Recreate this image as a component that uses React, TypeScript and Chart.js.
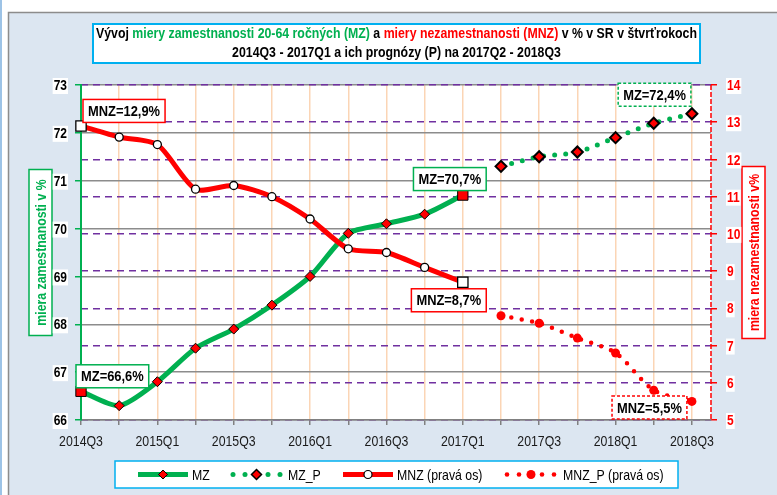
import React, { useEffect, useRef } from "react";
import { Chart, registerables } from "chart.js";

Chart.register(...registerables);

// ---------- DATA ----------
const categories = [
  "2014Q3", "2014Q4", "2015Q1", "2015Q2", "2015Q3", "2015Q4",
  "2016Q1", "2016Q2", "2016Q3", "2016Q4", "2017Q1", "2017Q2",
  "2017Q3", "2017Q4", "2018Q1", "2018Q2", "2018Q3",
];
const mzActual = [66.6, 66.3, 66.8, 67.5, 67.9, 68.4, 69.0, 69.9, 70.1, 70.3, 70.7];
const mzForecast = [71.3, 71.5, 71.6, 71.9, 72.2, 72.4];
const mnzActual = [12.9, 12.6, 12.4, 11.2, 11.3, 11.0, 10.4, 9.6, 9.5, 9.1, 8.7];
const mnzForecast = [7.8, 7.6, 7.2, 6.8, 5.8, 5.5];
const forecastStart = 11; // index of 2017Q2
const leftTicks = [66, 67, 68, 69, 70, 71, 72, 73];
const rightTicks = [5, 6, 7, 8, 9, 10, 11, 12, 13, 14];
const legendLabels = ["MZ", "MZ_P", "MNZ (pravá os)", "MNZ_P (pravá os)"];
const leftAxisTitle = "miera zamestnanosti v %";
const rightAxisTitle = "miera nezamestnanosti v%";
const titleLine1 = [
  { text: "Vývoj ", color: "#000000" },
  { text: "miery zamestnanosti 20-64 ročných (MZ)", color: "#00B050" },
  { text: " a ", color: "#000000" },
  { text: "miery nezamestnanosti (MNZ)", color: "#FF0000" },
  { text: " v % v SR v štvrťrokoch", color: "#000000" },
];
const titleLine2 = "2014Q3 - 2017Q1 a ich prognózy (P) na 2017Q2 - 2018Q3";

// ---------- STYLE ----------
const FONT = '"Liberation Sans", Arial, sans-serif';
const NARROW = 0.82;
const GREEN = "#00B050";
const RED = "#FF0000";
const PURPLE = "#7030A0";
const PEACH = "#FBD5B5";
const PANEL = "#DCE6F1";
const TITLE_BLUE = "#00B0F0";

const fmt = (v: number) => v.toFixed(1).replace(".", ",");
const toPts = (arr: number[], start: number) => arr.map((v, i) => ({ x: start + i, y: v }));

// draw horizontally condensed text (Arial Narrow look-alike)
const drawText = (
  ctx: CanvasRenderingContext2D,
  text: string,
  x: number,
  y: number,
  font: string,
  color: string,
  align: "left" | "center" | "right",
  sx = NARROW,
  backdrop?: string
) => {
  ctx.save();
  ctx.font = font;
  const w = ctx.measureText(text).width * sx;
  const left = align === "left" ? x : align === "center" ? x - w / 2 : x - w;
  if (backdrop) {
    ctx.fillStyle = backdrop;
    ctx.fillRect(left - 1, y - 8, w + 2, 16);
  }
  ctx.translate(left, y);
  ctx.scale(sx, 1);
  ctx.textAlign = "left";
  ctx.textBaseline = "middle";
  ctx.fillStyle = color;
  ctx.fillText(text, 0, 0);
  ctx.restore();
  return w;
};

const decorPlugin = {
  id: "decor",
  beforeDraw(chart: any) {
    const { ctx, chartArea: a, width, height } = chart;
    ctx.save();
    ctx.fillStyle = "#FFFFFF";
    ctx.fillRect(0, 0, width, height);
    ctx.fillStyle = "#9DC3E6";
    ctx.fillRect(0, 0, 2, height);
    ctx.fillStyle = PANEL;
    ctx.fillRect(8, 12, width - 8, height - 12);
    ctx.strokeStyle = "#8C8C8C";
    ctx.lineWidth = 1.5;
    ctx.beginPath();
    ctx.moveTo(8.5, height);
    ctx.lineTo(8.5, 12.5);
    ctx.lineTo(width, 12.5);
    ctx.stroke();
    ctx.fillStyle = "#FFFFFF";
    ctx.fillRect(a.left, a.top, a.right - a.left, a.bottom - a.top);

    // title box
    const tb = { l: 93, t: 24, r: 700, b: 63 };
    ctx.fillStyle = "#FFFFFF";
    ctx.fillRect(tb.l, tb.t, tb.r - tb.l, tb.b - tb.t);
    ctx.strokeStyle = TITLE_BLUE;
    ctx.lineWidth = 2;
    ctx.strokeRect(tb.l, tb.t, tb.r - tb.l, tb.b - tb.t);
    const tFont = `bold 15px ${FONT}`;
    ctx.font = tFont;
    const raw1 = titleLine1.reduce((s, seg) => s + ctx.measureText(seg.text).width, 0);
    const tsx = 601 / raw1;
    const cx = (tb.l + tb.r) / 2;
    let x = cx - (raw1 * tsx) / 2;
    for (const seg of titleLine1) {
      x += drawText(ctx, seg.text, x, 34, tFont, seg.color, "left", tsx);
    }
    drawText(ctx, titleLine2, cx, 53, tFont, "#000", "center", tsx);

    // axis title boxes
    const axisTitle = (text: string, color: string, bx: number, by: number, bw: number, bh: number) => {
      ctx.fillStyle = "#FFFFFF";
      ctx.fillRect(bx, by, bw, bh);
      ctx.strokeStyle = color;
      ctx.lineWidth = 1.5;
      ctx.strokeRect(bx, by, bw, bh);
      ctx.save();
      ctx.translate(bx + bw / 2, by + bh / 2);
      ctx.rotate(-Math.PI / 2);
      drawText(ctx, text, 0, 1, `bold 15px ${FONT}`, color, "center", NARROW);
      ctx.restore();
    };
    const midY = (a.top + a.bottom) / 2;
    axisTitle(leftAxisTitle, GREEN, a.left - 52, midY - 83, 23, 166);
    axisTitle(rightAxisTitle, RED, a.right + 31, midY - 86, 23, 172);

    // legend
    const lb = { l: 115, t: 461, r: 678, b: 488 };
    ctx.fillStyle = "#FFFFFF";
    ctx.fillRect(lb.l, lb.t, lb.r - lb.l, lb.b - lb.t);
    ctx.strokeStyle = TITLE_BLUE;
    ctx.lineWidth = 1.5;
    ctx.strokeRect(lb.l, lb.t, lb.r - lb.l, lb.b - lb.t);
    const ly = 474.5;
    ctx.lineCap = "butt";
    const diamond = (px: number, py: number, r: number, bw: number) => {
      ctx.beginPath();
      ctx.moveTo(px, py - r);
      ctx.lineTo(px + r, py);
      ctx.lineTo(px, py + r);
      ctx.lineTo(px - r, py);
      ctx.closePath();
      ctx.fillStyle = RED;
      ctx.fill();
      ctx.strokeStyle = "#000";
      ctx.lineWidth = bw;
      ctx.stroke();
    };
    const dot = (px: number, py: number, r: number, c: string) => {
      ctx.beginPath();
      ctx.arc(px, py, r, 0, Math.PI * 2);
      ctx.fillStyle = c;
      ctx.fill();
    };
    ctx.strokeStyle = GREEN;
    ctx.lineWidth = 5;
    ctx.beginPath();
    ctx.moveTo(138, ly);
    ctx.lineTo(188, ly);
    ctx.stroke();
    diamond(163, ly, 4.5, 1);
    [233, 245, 268, 280].forEach((px) => dot(px, ly, 2.5, GREEN));
    diamond(256.5, ly, 5, 1.5);
    ctx.strokeStyle = RED;
    ctx.lineWidth = 5;
    ctx.beginPath();
    ctx.moveTo(343, ly);
    ctx.lineTo(393, ly);
    ctx.stroke();
    ctx.beginPath();
    ctx.arc(368, ly, 4, 0, Math.PI * 2);
    ctx.fillStyle = "#FFF";
    ctx.fill();
    ctx.strokeStyle = "#000";
    ctx.lineWidth = 1.2;
    ctx.stroke();
    [507, 519, 542, 554].forEach((px) => dot(px, ly, 2.3, RED));
    dot(531, ly, 4.5, RED);
    const lFont = `15px ${FONT}`;
    drawText(ctx, legendLabels[0], 192, ly + 1, lFont, "#000", "left");
    drawText(ctx, legendLabels[1], 288, ly + 1, lFont, "#000", "left");
    drawText(ctx, legendLabels[2], 397, ly + 1, lFont, "#000", "left");
    drawText(ctx, legendLabels[3], 563, ly + 1, lFont, "#000", "left");
    ctx.restore();
  },
  beforeDatasetsDraw(chart: any) {
    const { ctx, chartArea: a } = chart;
    ctx.save();
    ctx.strokeStyle = RED;
    ctx.lineWidth = 1.5;
    ctx.setLineDash([5, 2]);
    ctx.beginPath();
    ctx.moveTo(a.right, a.top);
    ctx.lineTo(a.right, a.bottom);
    ctx.stroke();
    ctx.restore();
  },
  afterDatasetsDraw(chart: any) {
    const { ctx, chartArea: a } = chart;
    const pt = (ds: number, idx: number) => chart.getDatasetMeta(ds).data[idx];
    const labels = [
      { ds: 0, idx: 0, text: `MZ=${fmt(mzActual[0])}%`, color: GREEN, dashed: false, align: "left", dx: -5, dy: -15 },
      { ds: 0, idx: mzActual.length - 1, text: `MZ=${fmt(mzActual[mzActual.length - 1])}%`, color: GREEN, dashed: false, align: "center", dx: -13, dy: -16 },
      { ds: 1, idx: mzForecast.length - 1, text: `MZ=${fmt(mzForecast[mzForecast.length - 1])}%`, color: GREEN, dashed: true, align: "right", dx: -1, dy: -19 },
      { ds: 2, idx: 0, text: `MNZ=${fmt(mnzActual[0])}%`, color: RED, dashed: false, align: "left", dx: 2, dy: -15 },
      { ds: 2, idx: mnzActual.length - 1, text: `MNZ=${fmt(mnzActual[mnzActual.length - 1])}%`, color: RED, dashed: false, align: "center", dx: -14, dy: 18 },
      { ds: 3, idx: mnzForecast.length - 1, text: `MNZ=${fmt(mnzForecast[mnzForecast.length - 1])}%`, color: RED, dashed: true, align: "right", dx: -5, dy: 6 },
    ];
    const font = `bold 15px ${FONT}`;
    ctx.save();
    for (const l of labels) {
      const p = pt(l.ds, l.idx);
      if (!p) continue;
      ctx.font = font;
      const w = ctx.measureText(l.text).width * 0.86 + 10;
      const h = 23;
      let left = p.x + l.dx;
      if (l.align === "center") left = p.x + l.dx - w / 2;
      if (l.align === "right") left = p.x + l.dx - w;
      const top = p.y + l.dy - h / 2;
      ctx.fillStyle = "#FFFFFF";
      ctx.fillRect(left, top, w, h);
      ctx.strokeStyle = l.color;
      ctx.lineWidth = 1.5;
      ctx.setLineDash(l.dashed ? [3, 2] : []);
      ctx.strokeRect(left, top, w, h);
      ctx.setLineDash([]);
      drawText(ctx, l.text, left + w / 2, top + h / 2 + 1, font, "#000", "center", 0.86);
    }
    ctx.restore();
  },
  afterDraw(chart: any) {
    const { ctx, scales, chartArea: a } = chart;
    const bold = `bold 15px ${FONT}`;
    // left axis labels
    for (const v of leftTicks) {
      const y = scales.y.getPixelForValue(v);
      drawText(ctx, String(v), a.left - 14, y + 1, bold, "#000", "right", 0.8, "#FFFFFF");
    }
    for (const v of rightTicks) {
      const y = scales.y1.getPixelForValue(v);
      drawText(ctx, String(v), a.right + 16, y + 1, bold, RED, "left", 0.8, "#FFFFFF");
    }
    categories.forEach((c, i) => {
      if (i % 2 !== 0) return;
      const x = scales.x.getPixelForValue(i);
      drawText(ctx, c, x, a.bottom + 22, `15px ${FONT}`, "#1a1a1a", "center", NARROW);
    });
  },
};

export default function App() {
  const ref = useRef<HTMLCanvasElement>(null);
  useEffect(() => {
    const canvas = ref.current;
    if (!canvas) return;
    const lastA = mzActual.length - 1;
    const chart = new Chart(canvas, {
      type: "line",
      data: {
        datasets: [
          {
            label: legendLabels[0],
            data: toPts(mzActual, 0),
            yAxisID: "y",
            borderColor: GREEN,
            borderWidth: 5,
            tension: 0.25,
            pointStyle: mzActual.map((_, i) => (i === 0 || i === lastA ? "rect" : "rectRot")),
            pointRadius: mzActual.map((_, i) => (i === 0 || i === lastA ? 7.3 : 5)),
            pointBackgroundColor: RED,
            pointBorderColor: "#000",
            pointBorderWidth: 1,
            clip: false,
            order: 4,
          } as any,
          {
            label: legendLabels[1],
            data: toPts(mzForecast, forecastStart),
            yAxisID: "y",
            borderColor: GREEN,
            borderWidth: 5,
            borderDash: [0, 11],
            borderCapStyle: "round",
            tension: 0.3,
            pointStyle: "rectRot",
            pointRadius: 5.5,
            pointBackgroundColor: RED,
            pointBorderColor: "#000",
            pointBorderWidth: 2,
            clip: false,
            order: 3,
          } as any,
          {
            label: legendLabels[2],
            data: toPts(mnzActual, 0),
            yAxisID: "y1",
            borderColor: RED,
            borderWidth: 5,
            tension: 0.25,
            pointStyle: mnzActual.map((_, i) => (i === 0 || i === lastA ? "rect" : "circle")),
            pointRadius: mnzActual.map((_, i) => (i === 0 || i === lastA ? 7.3 : 4)),
            pointBackgroundColor: "#FFFFFF",
            pointBorderColor: "#000",
            pointBorderWidth: 1.3,
            clip: false,
            order: 2,
          } as any,
          {
            label: legendLabels[3],
            data: toPts(mnzForecast, forecastStart),
            yAxisID: "y1",
            borderColor: RED,
            borderWidth: 4.5,
            borderDash: [0, 10.5],
            borderCapStyle: "round",
            tension: 0.3,
            pointStyle: "circle",
            pointRadius: 4.5,
            pointBackgroundColor: RED,
            pointBorderColor: RED,
            pointBorderWidth: 0,
            clip: false,
            order: 1,
          } as any,
        ],
      },
      options: {
        responsive: false,
        animation: false,
        devicePixelRatio: 1,
        layout: { padding: { top: 85, left: 0, right: 0, bottom: 0 } },
        plugins: {
          legend: { display: false },
          title: { display: false },
          tooltip: { enabled: false },
        },
        scales: {
          x: {
            type: "linear",
            min: 0,
            max: categories.length - 0.5,
            afterBuildTicks: (s: any) => {
              s.ticks = categories.map((_, i) => ({ value: i }));
            },
            afterFit: (s: any) => {
              s.height = 75;
            },
            ticks: {
              autoSkip: false,
              maxRotation: 0,
              minRotation: 0,
              color: "rgba(0,0,0,0)",
              font: { family: FONT, size: 14 },
              callback: (v: any) => (Number(v) % 2 === 0 ? categories[Number(v)] : ""),
            },
            grid: {
              color: PEACH,
              lineWidth: 1.5,
              drawTicks: true,
              tickLength: 5,
              tickColor: "#808080",
              tickWidth: 1.5,
            },
            border: { display: true, color: "#808080", width: 1.5 },
          },
          y: {
            type: "linear",
            position: "left",
            min: leftTicks[0],
            max: leftTicks[leftTicks.length - 1],
            afterBuildTicks: (s: any) => {
              s.ticks = leftTicks.map((v) => ({ value: v }));
            },
            afterFit: (s: any) => {
              s.width = 81;
            },
            ticks: { color: "rgba(0,0,0,0)", font: { family: FONT, size: 15, weight: "bold" } },
            grid: {
              color: "#8C8C8C",
              lineWidth: 1.5,
              tickLength: 6,
              tickColor: GREEN,
              tickWidth: 1.5,
            },
            border: { display: true, color: GREEN, width: 2 },
          },
          y1: {
            type: "linear",
            position: "right",
            min: rightTicks[0],
            max: rightTicks[rightTicks.length - 1],
            afterBuildTicks: (s: any) => {
              s.ticks = rightTicks.map((v) => ({ value: v }));
            },
            afterFit: (s: any) => {
              s.width = 66;
            },
            ticks: { color: "rgba(0,0,0,0)", font: { family: FONT, size: 15, weight: "bold" } },
            grid: {
              color: PURPLE,
              lineWidth: 1.5,
              tickLength: 6,
              tickColor: RED,
              tickWidth: 1.5,
              tickBorderDash: [],
            } as any,
            border: { display: false, dash: [7, 5] },
          },
        },
      } as any,
      plugins: [decorPlugin],
    });
    return () => chart.destroy();
  }, []);
  return (
    <div style={{ position: "fixed", left: 0, top: 0, width: 777, height: 495 }}>
      <canvas ref={ref} width={777} height={495} style={{ display: "block", width: 777, height: 495 }} />
    </div>
  );
}
